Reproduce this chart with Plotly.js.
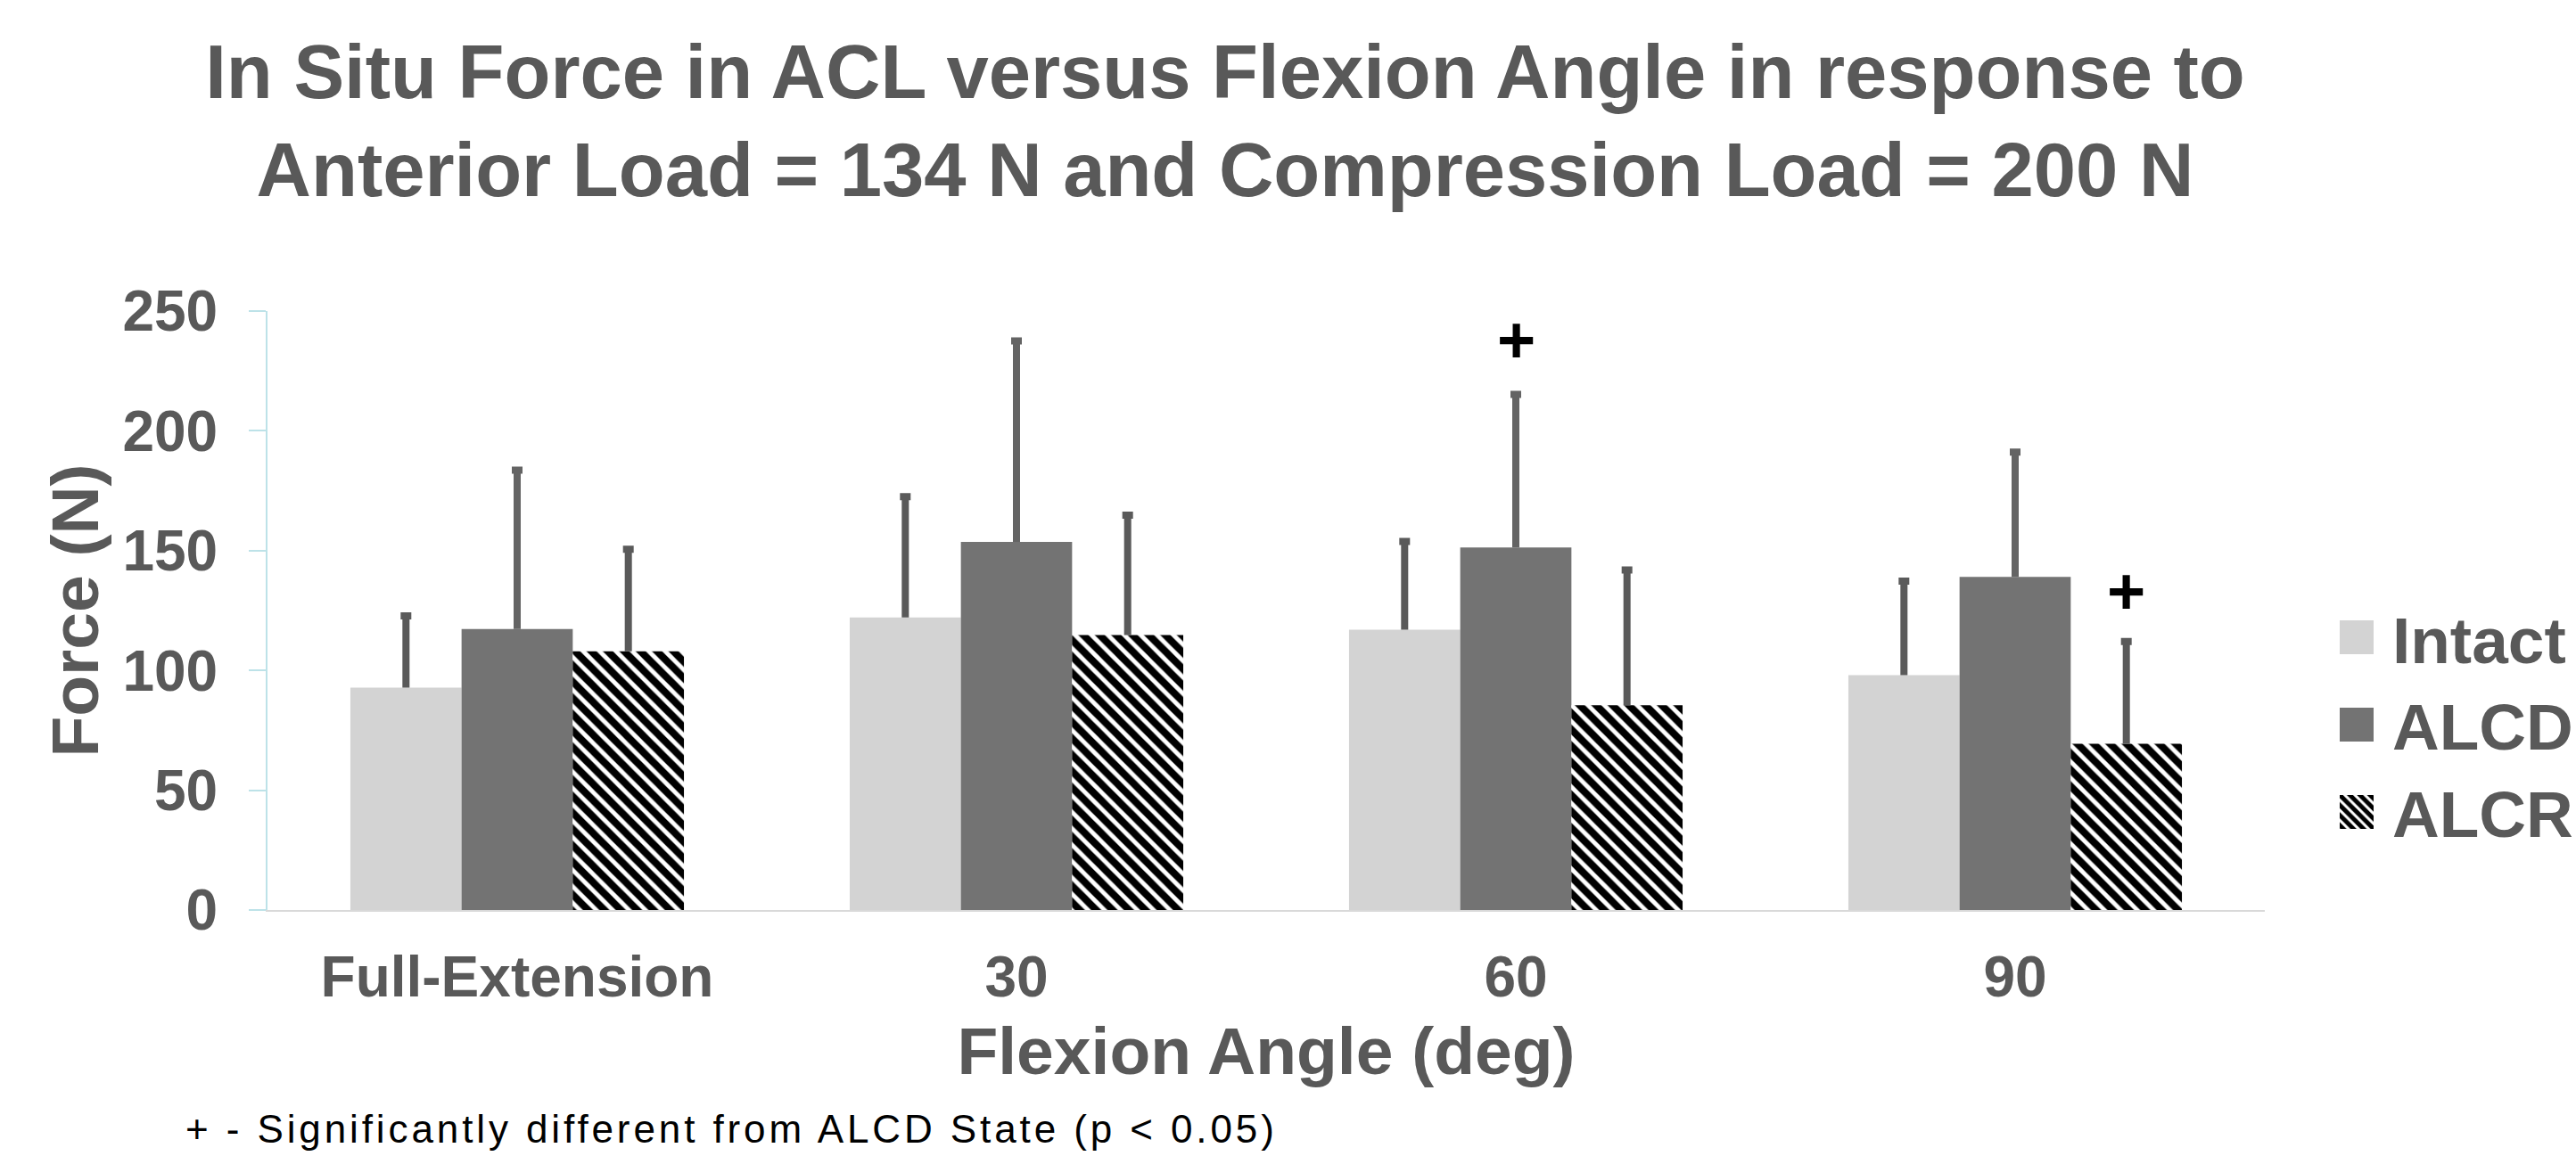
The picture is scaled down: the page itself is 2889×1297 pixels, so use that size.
<!DOCTYPE html>
<html>
<head>
<meta charset="utf-8">
<script src="https://cdn.plot.ly/plotly-3.0.1.min.js"></script>
<style>
  html, body { margin: 0; padding: 0; background: #ffffff; }
  #chart { width: 2889px; height: 1297px; }
  .annotation[data-index="0"] text { letter-spacing: 3.9px; }
</style>
</head>
<body>
<div id="chart"></div>
<script>
// ---- data ----
const categories = ['Full-Extension', '30', '60', '90'];
const seriesNames = ['Intact', 'ALCD', 'ALCR'];
const intactForce = [92.8, 122.1, 117.0, 98.0];
const alcdForce   = [117.3, 153.6, 151.3, 139.0];
const alcrForce   = [108.0, 114.8, 85.5, 69.4];
const intactSD = [30.0, 50.4, 36.8, 39.3];
const alcdSD   = [66.3, 83.9, 63.9, 52.1];
const alcrSD   = [42.6, 50.0, 56.4, 42.7];
const noLowerError = [0, 0, 0, 0];
// significance markers: category, series, height (N)
const sigCategory = ['60', '90'];
const sigSeries = ['ALCD', 'ALCR'];
const sigHeight = [238, 133];
const footnote = '+ - Significantly different from ALCD State (p < 0.05)';
const titleText = 'In Situ Force in ACL versus Flexion Angle in response to<br>Anterior Load = 134 N and Compression Load = 200 N';

// ---- styling ----
const FONT = 'Liberation Sans, Arial, sans-serif';
const TXT = '#595959';
const BARGAP = 0.332;
const LEGEND_LEFT_PX = 2603;

function errOpts(arr, color) {
  return { type: 'data', symmetric: false, array: arr, arrayminus: noLowerError,
           color: color, thickness: 8, width: 6, visible: true };
}

const traces = [
  { type: 'bar', name: seriesNames[0], x: categories, y: intactForce,
    marker: { color: '#d3d3d3', line: { width: 0 } },
    error_y: errOpts(intactSD, '#5a5a5a') },
  { type: 'bar', name: seriesNames[1], x: categories, y: alcdForce,
    marker: { color: '#737373', line: { width: 0 } },
    error_y: errOpts(alcdSD, '#646464') },
  { type: 'bar', name: seriesNames[2], x: categories, y: alcrForce,
    marker: { color: '#000000', line: { width: 0 },
              pattern: { shape: '\\', size: 13, solidity: 0.62, fgcolor: '#000000',
                         bgcolor: '#ffffff', fillmode: 'replace' } },
    error_y: errOpts(alcrSD, '#5a5a5a') }
];

// bar width in category units (3 bars per group, no inner gap)
const barUnits = (1 - BARGAP) / seriesNames.length;
const annotations = [
  { xref: 'paper', yref: 'paper', x: -0.042, y: -0.3658, xanchor: 'left', yanchor: 'middle',
    align: 'left', text: footnote, showarrow: false,
    font: { family: FONT, size: 44, color: '#000000' } }
];
sigCategory.forEach((c, i) => {
  const ci = categories.indexOf(c);
  const si = seriesNames.indexOf(sigSeries[i]);
  annotations.push({
    xref: 'x', yref: 'y', x: ci + (si - 1) * barUnits, y: sigHeight[i],
    xanchor: 'center', yanchor: 'middle', showarrow: false, text: '+',
    font: { family: FONT, size: 74, color: '#000000', weight: 700 }
  });
});

const layout = {
  width: 2889, height: 1297,
  paper_bgcolor: '#ffffff', plot_bgcolor: '#ffffff',
  margin: { l: 300, r: 349, t: 349, b: 276, pad: 0, autoexpand: false },
  barmode: 'group', bargap: BARGAP, bargroupgap: 0,
  font: { family: FONT, color: TXT },
  title: {
    text: titleText, x: 0.4756, xanchor: 'center', xref: 'container',
    y: 0.9152, yanchor: 'top', yref: 'container',
    font: { family: FONT, size: 85, color: TXT, weight: 700 }
  },
  xaxis: {
    type: 'category', range: [-0.5, 3.5], showline: true, linecolor: '#d9d9d9', linewidth: 2,
    ticks: '', showgrid: false, zeroline: false, ticklabelstandoff: 18,
    tickfont: { family: FONT, size: 64, color: TXT, weight: 700 },
    title: { text: 'Flexion Angle (deg)', standoff: 22,
             font: { family: FONT, size: 75, color: TXT, weight: 700 } }
  },
  yaxis: {
    range: [0, 250], dtick: 50, tick0: 0, showline: true, linecolor: '#bde2e8', linewidth: 2,
    ticks: 'outside', ticklen: 19, tickwidth: 2, tickcolor: '#bde2e8',
    showgrid: false, zeroline: false, ticklabelstandoff: 22,
    tickfont: { family: FONT, size: 64, color: TXT, weight: 700 },
    title: { text: 'Force (N)', standoff: 2,
             font: { family: FONT, size: 75, color: TXT, weight: 700 } }
  },
  showlegend: true,
  legend: {
    x: 1.0293, xanchor: 'left', y: 0.5355, yanchor: 'top', itemwidth: 70,
    bgcolor: 'rgba(0,0,0,0)', borderwidth: 0, traceorder: 'normal',
    font: { family: FONT, size: 73, color: TXT, weight: 700 }
  },
  annotations: annotations
};

function finishStyling(gd) {
  // one-sided error bars: drop the lower "shoe" segment
  gd.querySelectorAll('g.errorbar path').forEach(p => {
    const d = p.getAttribute('d') || '';
    p.setAttribute('d', d.replace(/m-[\d.e+-]+,0h[\d.e+-]+$/, ''));
  });
  // larger legend swatches, as in the reference
  gd.querySelectorAll('.legend .legendpoints path').forEach(p => {
    const d = p.getAttribute('d') || '';
    if (/^M6,6H-6V-6H6Z$/.test(d)) p.setAttribute('d', 'M19,19H-19V-19H19Z');
  });
  // legend sits near the right edge, as in the reference (undo edge clamping)
  const lg = gd.querySelector('g.legend');
  if (lg) {
    const t = lg.getAttribute('transform') || '';
    const m = t.match(/translate\(\s*([-\d.e]+)[ ,]+([-\d.e]+)\s*\)/);
    if (m) lg.setAttribute('transform', 'translate(' + LEGEND_LEFT_PX + ',' + m[2] + ')');
  }
}

Plotly.newPlot('chart', traces, layout, { staticPlot: true, responsive: false }).then(gd => {
  finishStyling(gd);
  gd.on('plotly_afterplot', () => finishStyling(gd));
  setTimeout(() => finishStyling(gd), 300);
});
</script>
</body>
</html>
